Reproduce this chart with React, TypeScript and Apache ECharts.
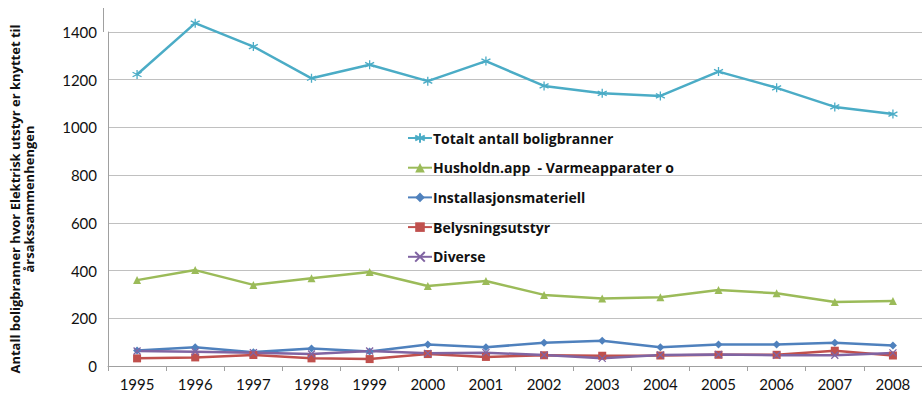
import React, { useEffect, useRef } from "react";
import * as echarts from "echarts";

const years = ["1995","1996","1997","1998","1999","2000","2001","2002","2003","2004","2005","2006","2007","2008"];
const totalt = [1222, 1437, 1339, 1206, 1263, 1194, 1278, 1174, 1143, 1132, 1234, 1166, 1086, 1056];
const husholdn = [360, 402, 340, 368, 394, 335, 356, 298, 283, 288, 319, 305, 268, 272];
const installasjon = [65, 79, 58, 73, 61, 90, 79, 97, 106, 79, 90, 90, 97, 86];
const belysning = [32, 36, 46, 32, 29, 50, 38, 45, 43, 44, 47, 47, 64, 44];
const diverse = [63, 60, 56, 50, 63, 53, 56, 46, 32, 46, 48, 45, 45, 55];

const seriesNames = ["Totalt antall boligbranner", "Husholdn.app  - Varmeapparater o", "Installasjonsmateriell", "Belysningsutstyr", "Diverse"];

const asterisk = "path://M5,0L5,10M0,2.5L10,7.5M10,2.5L0,7.5";
const cross = "path://M0,0L10,10M10,0L0,10";

export default function App() {
  const ref = useRef<HTMLDivElement>(null);
  useEffect(() => {
    if (!ref.current) return;
    const chart = echarts.init(ref.current, undefined, { renderer: "svg" });
    const font = "Lato, 'Open Sans', sans-serif";
    const mk = (name: string, data: number[], color: string, symbol: string, size: number, stroked: boolean) => ({
      name,
      type: "line",
      data,
      symbol,
      symbolSize: size,
      clip: false,
      lineStyle: { color, width: 2.5 },
      itemStyle: stroked
        ? { color, borderColor: color, borderWidth: 1.3 }
        : { color },
      emphasis: { disabled: true },
    });
    chart.setOption({
      animation: false,
      textStyle: { fontFamily: font },
      grid: { left: 103, top: 32, bottom: 37, width: 822, containLabel: false },
      graphic: [
        { type: "line", shape: { x1: 103.5, y1: 8, x2: 103.5, y2: 32 }, style: { stroke: "#a0a0a0", lineWidth: 1 }, silent: true },
      ],
      legend: {
        orient: "vertical",
        left: 402,
        top: 126,
        itemGap: 15.7,
        itemWidth: 24,
        itemHeight: 12,
        textStyle: { fontFamily: "'Open Sans', sans-serif", fontWeight: "bold", fontSize: 14, color: "#111", padding: [0, 0, 0, -4] },
        data: seriesNames,
      },
      xAxis: {
        type: "category",
        data: years,
        boundaryGap: true,
        axisLine: { lineStyle: { color: "#a0a0a0", width: 1 } },
        axisTick: { show: true, length: 5, lineStyle: { color: "#a0a0a0" } },
        axisLabel: { fontSize: 15, color: "#111", margin: 10, fontFamily: font },
      },
      yAxis: {
        type: "value",
        min: 0,
        max: 1400,
        interval: 200,
        axisLine: { show: true, lineStyle: { color: "#a0a0a0", width: 1 } },
        axisTick: { show: false },
        splitLine: { lineStyle: { color: "#c0c0c0", width: 1 } },
        axisLabel: { fontSize: 15, color: "#111", margin: 11, fontFamily: font, formatter: (v: number) => String(v) },
        name: "Antall boligbranner hvor Elektrisk utstyr er knyttet til\nårsakssammenhengen",
        nameLocation: "middle",
        nameGap: 72,
        nameRotate: 90,
        nameTextStyle: { fontSize: 13, fontWeight: "bold", color: "#111", fontFamily: "'Open Sans', sans-serif", lineHeight: 14 },
      },
      series: [
        mk(seriesNames[0], totalt, "#4BACC6", asterisk, 9, true),
        mk(seriesNames[1], husholdn, "#9BBB59", "triangle", 8, false),
        mk(seriesNames[2], installasjon, "#4F81BD", "diamond", 8, false),
        mk(seriesNames[3], belysning, "#C0504D", "rect", 8, false),
        mk(seriesNames[4], diverse, "#8064A2", cross, 7, true),
      ],
    });
    return () => chart.dispose();
  }, []);
  return <div ref={ref} style={{ width: 922, height: 403, position: "absolute", left: 0, top: 0, background: "#fff" }} />;
}
